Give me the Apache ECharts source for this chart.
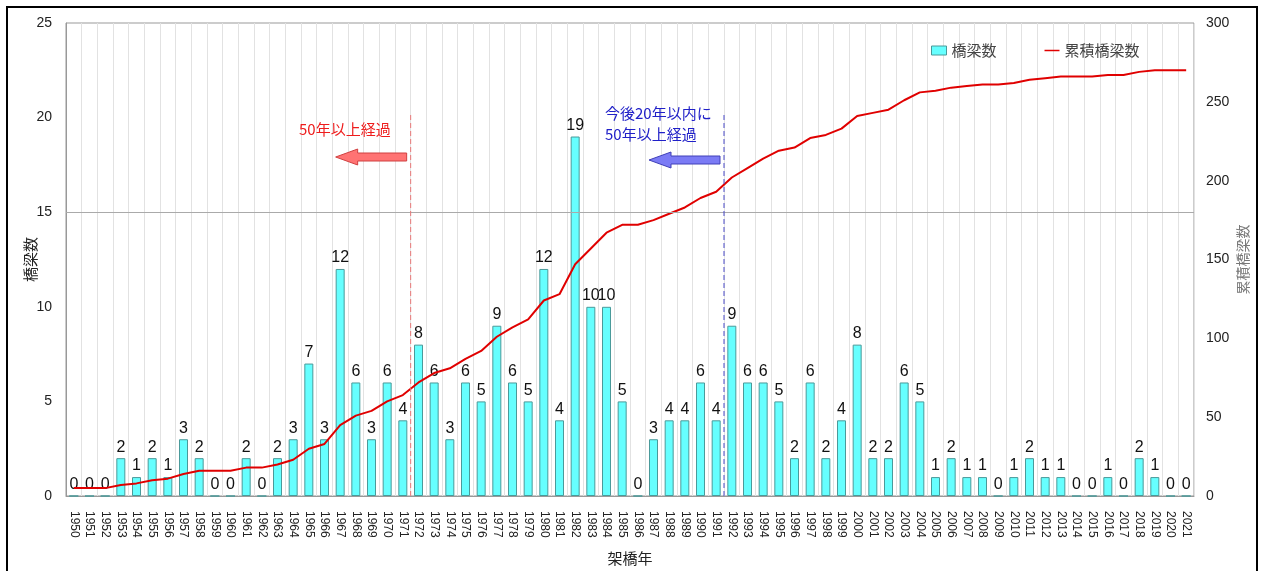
<!DOCTYPE html>
<html>
<head>
<meta charset="utf-8">
<script src="https://cdn.jsdelivr.net/npm/echarts@6/dist/echarts.min.js"></script>
<style>
  body { margin: 0; background: #fff; }
  #main { width: 1263px; height: 571px; }
  .frame { position: absolute; left: 6px; top: 6px; width: 1248px; height: 600px; border: 2px solid #000; pointer-events: none; }
</style>
</head>
<body>
<div id="main"></div>
<div class="frame"></div>
<script>
// 架橋年
const years = []
for (let y = 1950; y <= 2021; y++) years.push(String(y))

// 橋梁数（年ごと）
const bridgeCounts = [
  0, 0, 0, 2, 1, 2, 1, 3, 2, 0,
  0, 2, 0, 2, 3, 7, 3, 12, 6, 3,
  6, 4, 8, 6, 3, 6, 5, 9, 6, 5,
  12, 4, 19, 10, 10, 5, 0, 3, 4, 4,
  6, 4, 9, 6, 6, 5, 2, 6, 2, 4,
  8, 2, 2, 6, 5, 1, 2, 1, 1, 0,
  1, 2, 1, 1, 0, 0, 1, 0, 2, 1,
  0, 0
]

// 累積橋梁数
const cumulativeCounts = [
  5, 5, 5, 7, 8, 10, 11, 14, 16, 16,
  16, 18, 18, 20, 23, 30, 33, 45, 51, 54,
  60, 64, 72, 78, 81, 87, 92, 101, 107, 112,
  124, 128, 147, 157, 167, 172, 172, 175, 179, 183,
  189, 193, 202, 208, 214, 219, 221, 227, 229, 233,
  241, 243, 245, 251, 256, 257, 259, 260, 261, 261,
  262, 264, 265, 266, 266, 266, 267, 267, 269, 270,
  270, 270
]

const font = '"Noto Sans CJK JP", sans-serif'

const chart = echarts.init(document.getElementById('main'))

const option = {
  animation: false,
  textStyle: { fontFamily: font },
  grid: {
    left: 66,
    right: 69,
    top: 23,
    bottom: 70,
    show: true,
    borderColor: '#999',
    borderWidth: 1,
  },
  legend: {
    left: 926,
    top: 38,
    itemGap: 48,
    textStyle: { fontSize: 15, color: '#444', fontFamily: font },
    data: [
      { name: '橋梁数', icon: 'rect', itemStyle: { borderColor: '#4a9a9a', borderWidth: 1 } },
      { name: '累積橋梁数', icon: 'path://M0,0H20V2H0Z' },
    ],
    itemWidth: 15,
    itemHeight: 9,
  },
  xAxis: {
    type: 'category',
    data: years,
    name: '架橋年',
    nameLocation: 'middle',
    nameGap: 55,
    nameMoveOverlap: false,
    nameTextStyle: { fontSize: 15, color: '#222' },
    axisLine: { lineStyle: { color: '#999' } },
    axisTick: { show: false },
    axisLabel: {
      rotate: -90,
      interval: 0,
      fontSize: 12,
      color: '#222',
      margin: 15,
      fontFamily: 'Liberation Sans',
    },
    splitLine: { show: true, lineStyle: { color: '#e2e2e2' } },
  },
  yAxis: [
    {
      type: 'value',
      min: 0,
      max: 25,
      interval: 5,
      name: '橋梁数',
      nameLocation: 'middle',
      nameGap: 28,
      nameMoveOverlap: false,
      nameRotate: 90,
      nameTextStyle: { fontSize: 15, color: '#222' },
      axisLine: { show: true, lineStyle: { color: '#999' } },
      axisTick: { show: false },
      axisLabel: { fontSize: 14, color: '#222', margin: 14, fontFamily: 'Liberation Sans' },
      splitLine: { show: false },
    },
    {
      type: 'value',
      min: 0,
      max: 300,
      interval: 50,
      name: '累積橋梁数',
      nameLocation: 'middle',
      nameGap: 42,
      nameMoveOverlap: false,
      nameRotate: 90,
      nameTextStyle: { fontSize: 14, color: '#777' },
      axisLine: { show: false },
      axisTick: { show: false },
      axisLabel: { fontSize: 14, color: '#222', margin: 12, fontFamily: 'Liberation Sans' },
      splitLine: { show: false },
    },
  ],
  series: [
    {
      name: '橋梁数',
      type: 'bar',
      data: bridgeCounts,
      barWidth: 9,
      itemStyle: { color: '#66ffff', borderColor: '#4a9a9a', borderWidth: 1 },
      label: {
        show: true,
        position: 'top',
        distance: 3,
        fontSize: 16,
        color: '#111',
        fontFamily: 'Liberation Sans',
      },
      markLine: {
        silent: true,
        symbol: 'none',
        label: { show: false },
        lineStyle: { color: '#aaa', type: 'solid', width: 1 },
        data: [{ yAxis: 15 }],
      },
      z: 3,
    },
    {
      name: '累積橋梁数',
      type: 'line',
      yAxisIndex: 1,
      data: cumulativeCounts,
      showSymbol: false,
      symbol: 'none',
      lineStyle: { color: '#e00000', width: 2 },
      itemStyle: { color: '#e00000' },
      z: 4,
    },
  ],
}

chart.setOption(option)

// 注記（破線・矢印・テキスト）を軸位置から配置
const xRed = (chart.convertToPixel({ xAxisIndex: 0 }, '1971') + chart.convertToPixel({ xAxisIndex: 0 }, '1972')) / 2
const xBlue = (chart.convertToPixel({ xAxisIndex: 0 }, '1991') + chart.convertToPixel({ xAxisIndex: 0 }, '1992')) / 2
const yBottom = chart.convertToPixel({ yAxisIndex: 0 }, 0)

function arrow(tailX, y, len, fill, stroke) {
  const tip = tailX - len
  const head = 22
  return {
    type: 'polygon',
    shape: {
      points: [
        [tailX, y - 4], [tip + head, y - 4], [tip + head, y - 8], [tip, y],
        [tip + head, y + 8], [tip + head, y + 4], [tailX, y + 4],
      ],
    },
    style: { fill: fill, stroke: stroke, lineWidth: 1 },
    z: 10,
  }
}

chart.setOption({
  graphic: [
    {
      type: 'line',
      shape: { x1: xRed, y1: 115, x2: xRed, y2: yBottom },
      style: { stroke: '#e87878', lineWidth: 1, lineDash: [5, 3] },
      z: 10,
    },
    {
      type: 'line',
      shape: { x1: xBlue, y1: 115, x2: xBlue, y2: yBottom },
      style: { stroke: '#4a4ac8', lineWidth: 1, lineDash: [5, 3] },
      z: 10,
    },
    arrow(xRed - 4, 157, 71, '#ff7373', '#d04040'),
    arrow(xBlue - 4, 160, 71, '#7b7bf5', '#4040b8'),
    {
      type: 'text',
      left: 299,
      top: 122,
      style: { text: '50年以上経過', fill: '#ee1c1c', font: '15px ' + font },
      z: 10,
    },
    {
      type: 'text',
      left: 605,
      top: 103,
      style: {
        text: '今後20年以内に\n50年以上経過',
        fill: '#2020c8',
        font: '15px ' + font,
        lineHeight: 21,
      },
      z: 10,
    },
  ],
})
</script>
</body>
</html>
